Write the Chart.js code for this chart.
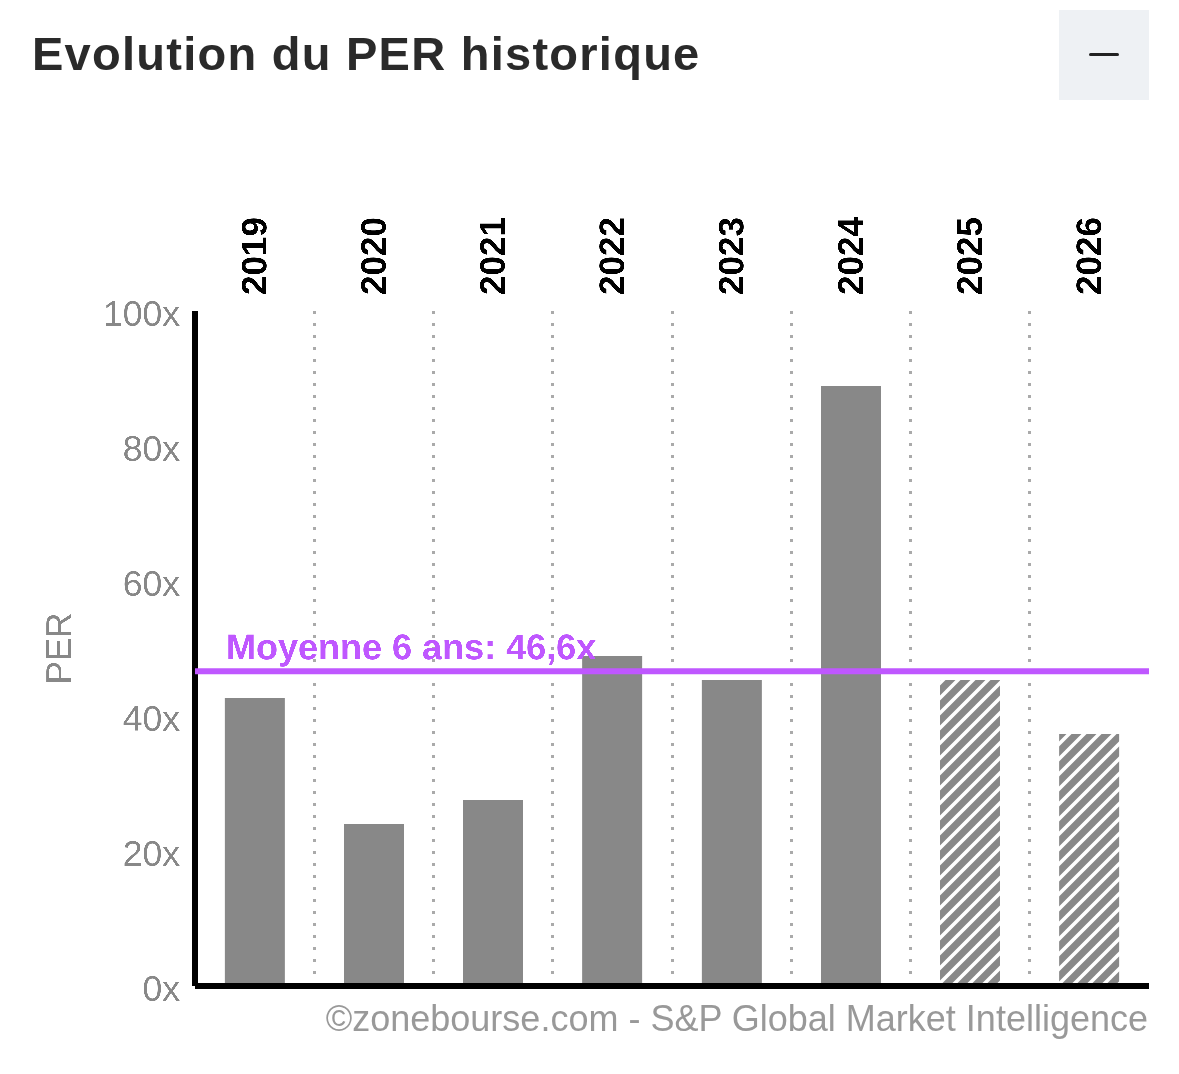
<!DOCTYPE html>
<html lang="fr"><head><meta charset="utf-8">
<style>
html,body{margin:0;padding:0;background:#fff;width:1179px;height:1074px;overflow:hidden;font-family:"Liberation Sans",Arial,sans-serif}
#wrap{position:relative;width:1179px;height:1074px}
canvas{position:absolute;left:0;top:0}
h1{position:absolute;left:32px;top:28px;margin:0;font:bold 47px/52px "Liberation Sans",Arial,sans-serif;letter-spacing:1.26px;color:#2a2a2a;white-space:nowrap}
#btn{position:absolute;left:1059px;top:10px;width:90px;height:90px;background:#eef1f4}
#btn i{position:absolute;left:30px;top:43px;width:30px;height:3px;border-radius:2px;background:#222}
#src{position:absolute;right:31px;top:998px;font:36px/42px "Liberation Sans",Arial,sans-serif;color:#999;white-space:nowrap}
</style>
<script src="https://cdn.jsdelivr.net/npm/chart.js@4"></script>
</head><body><div id="wrap">
<canvas id="c" width="1179" height="1074"></canvas>
<h1>Evolution du PER historique</h1>
<div id="btn"><i></i></div>
<div id="src">©zonebourse.com - S&amp;P Global Market Intelligence</div>
</div>
<script>
const years = ['2019','2020','2021','2022','2023','2024','2025','2026'];
const perValues = [42.7,24,27.6,48.9,45.3,88.9,45.3,37.3];
const estimated = [false,false,false,false,false,false,true,true];
const meanValue = 46.6;
const meanLabel = 'Moyenne 6 ans: 46,6x';
const yAxisTitle = 'PER';

const GRAY='#888888', PURPLE='#bf57ff';
function hatch(){
  const s=15,t=document.createElement('canvas');t.width=t.height=s;
  const g=t.getContext('2d');
  g.fillStyle='#fff';g.fillRect(0,0,s,s);
  g.strokeStyle=GRAY;g.lineWidth=7;g.beginPath();
  for(let k=-3;k<=4;k++){const c=10.5+k*s;g.moveTo(c+s,-s);g.lineTo(c-2*s,2*s);}
  g.stroke();
  return g.createPattern(t,'repeat');
}
const pattern=hatch();
const overlay={id:'overlay',
  afterDatasetDraw(ch,args){
    if(args.index!==1)return;
    const c=ch.ctx,a=ch.chartArea;
    c.save();c.fillStyle='#000';
    c.fillRect(a.left-3,a.top,6,a.bottom-a.top);
    c.fillRect(a.left,a.bottom-3,a.right-a.left,6);
    c.restore();
  },
  afterDatasetsDraw(ch){
    const c=ch.ctx,a=ch.chartArea,y=ch.scales.y.getPixelForValue(meanValue);
    c.save();
    c.font='bold 36px "Liberation Sans",Arial,sans-serif';c.fillStyle=PURPLE;
    c.textAlign='left';c.textBaseline='alphabetic';
    c.fillText(meanLabel,a.left+31,y-12);c.restore();
  }
};
new Chart(document.getElementById('c'),{
  data:{labels:years,datasets:[
    {type:'line',data:[{x:0,y:meanValue},{x:1,y:meanValue}],xAxisID:'base',yAxisID:'y',
     borderColor:PURPLE,borderWidth:6,pointRadius:0,order:0,clip:false},
    {type:'bar',data:perValues,xAxisID:'x',yAxisID:'y',grouped:false,categoryPercentage:1,barPercentage:60/119.25,order:1,
     backgroundColor:estimated.map(e=>e?pattern:GRAY)}
  ]},
  options:{
    responsive:false,animation:false,devicePixelRatio:3,
    layout:{padding:{left:0,top:0,right:30,bottom:88}},
    plugins:{legend:{display:false},tooltip:{enabled:false},title:{display:false}},
    scales:{
      x:{type:'category',position:'top',offset:true,
        border:{display:false,dash:[3,9]},
        grid:{drawTicks:false,lineWidth:3,
          color:c=>(c.index===0||c.index===undefined||c.index===years.length)?'rgba(0,0,0,0)':'#aaaaaa'},
        ticks:{minRotation:90,maxRotation:90,padding:16,labelOffset:44,color:'#000',autoSkip:false,
          font:{family:'"Liberation Sans",Arial,sans-serif',size:35,weight:'bold'}},
        afterFit(s){s.height=311;}
      },
      base:{type:'linear',position:'bottom',min:0,max:1,
        border:{display:false},
        grid:{display:false,drawTicks:false},ticks:{display:false},
        afterFit(s){s.height=0;}
      },
      y:{type:'linear',min:0,max:100,
        border:{display:false},
        grid:{display:false,drawTicks:false},
        ticks:{stepSize:20,padding:15,labelOffset:5,color:'#888',callback:v=>v+'x',
          font:{family:'"Liberation Sans",Arial,sans-serif',size:35.5}},
        title:{display:true,text:yAxisTitle,color:'#888',padding:{top:40,bottom:0},
          font:{family:'"Liberation Sans",Arial,sans-serif',size:35}},
        afterFit(s){s.width=195;}
      }
    }
  },
  plugins:[overlay]
});
</script></body></html>
